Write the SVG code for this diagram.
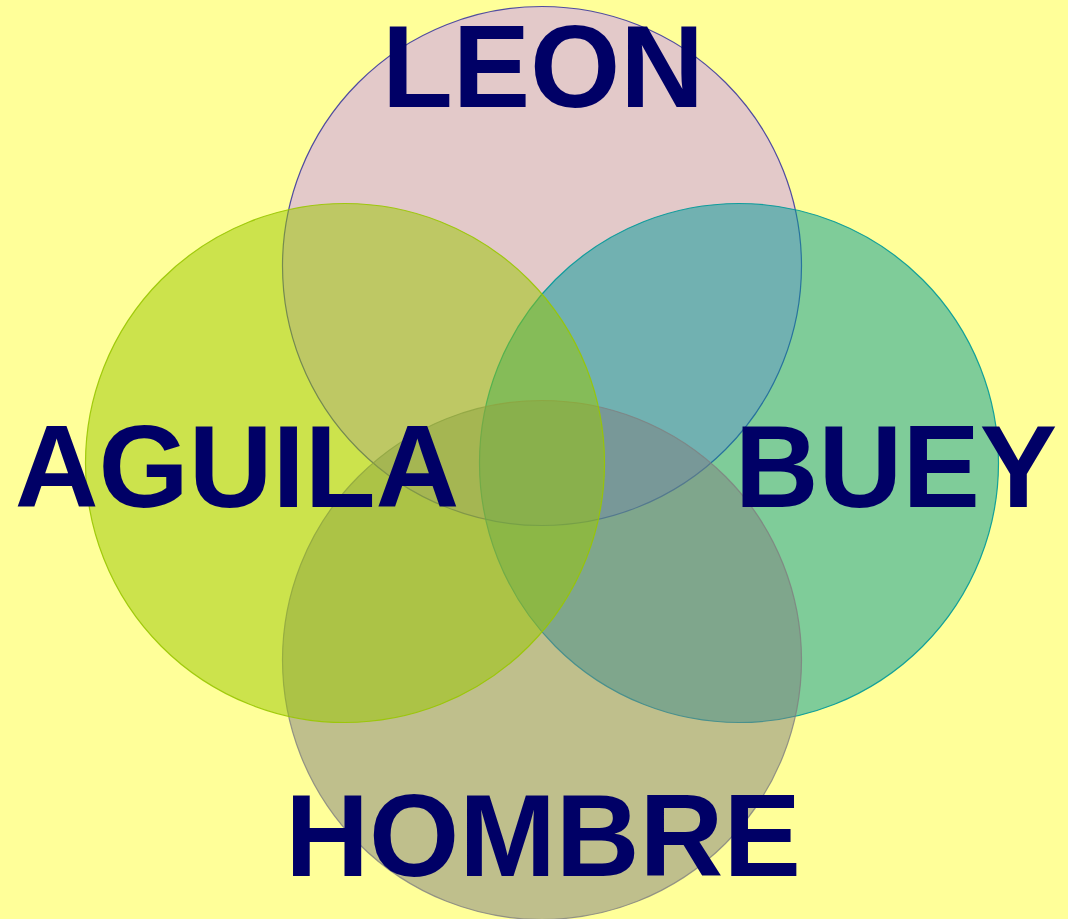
<svg xmlns="http://www.w3.org/2000/svg" width="1068" height="919" viewBox="0 0 1068 919">
<style>
.c{stroke-width:1.2}
.t{font-family:"Liberation Sans",Arial,sans-serif;font-weight:bold;font-size:116px;fill:#000066;text-anchor:middle}
</style>
<rect x="0" y="0" width="1068" height="919" fill="#FFFF99"/>
<g id="leon"><circle class="c" cx="542" cy="266" r="259.5" fill="#C793F9" fill-opacity="0.5" stroke="#1A1A99" stroke-opacity="0.75"/></g>
<g id="buey"><circle class="c" cx="739" cy="463" r="259.5" fill="#009999" fill-opacity="0.5" stroke="#009999" stroke-opacity="0.9"/></g>
<g id="hombre"><circle class="c" cx="542" cy="660" r="259.5" fill="#808080" fill-opacity="0.5" stroke="#808080" stroke-opacity="0.8"/></g>
<g id="aguila"><circle class="c" cx="345" cy="463" r="259.5" fill="#99C700" fill-opacity="0.5" stroke="#99C700" stroke-opacity="0.9"/></g>
<g id="labels">
<text class="t" x="543" y="107">LEON</text>
<text class="t" x="237" y="507">AGUILA</text>
<text class="t" x="896" y="507">BUEY</text>
<text class="t" x="543" y="876">HOMBRE</text>
</g>
</svg>
